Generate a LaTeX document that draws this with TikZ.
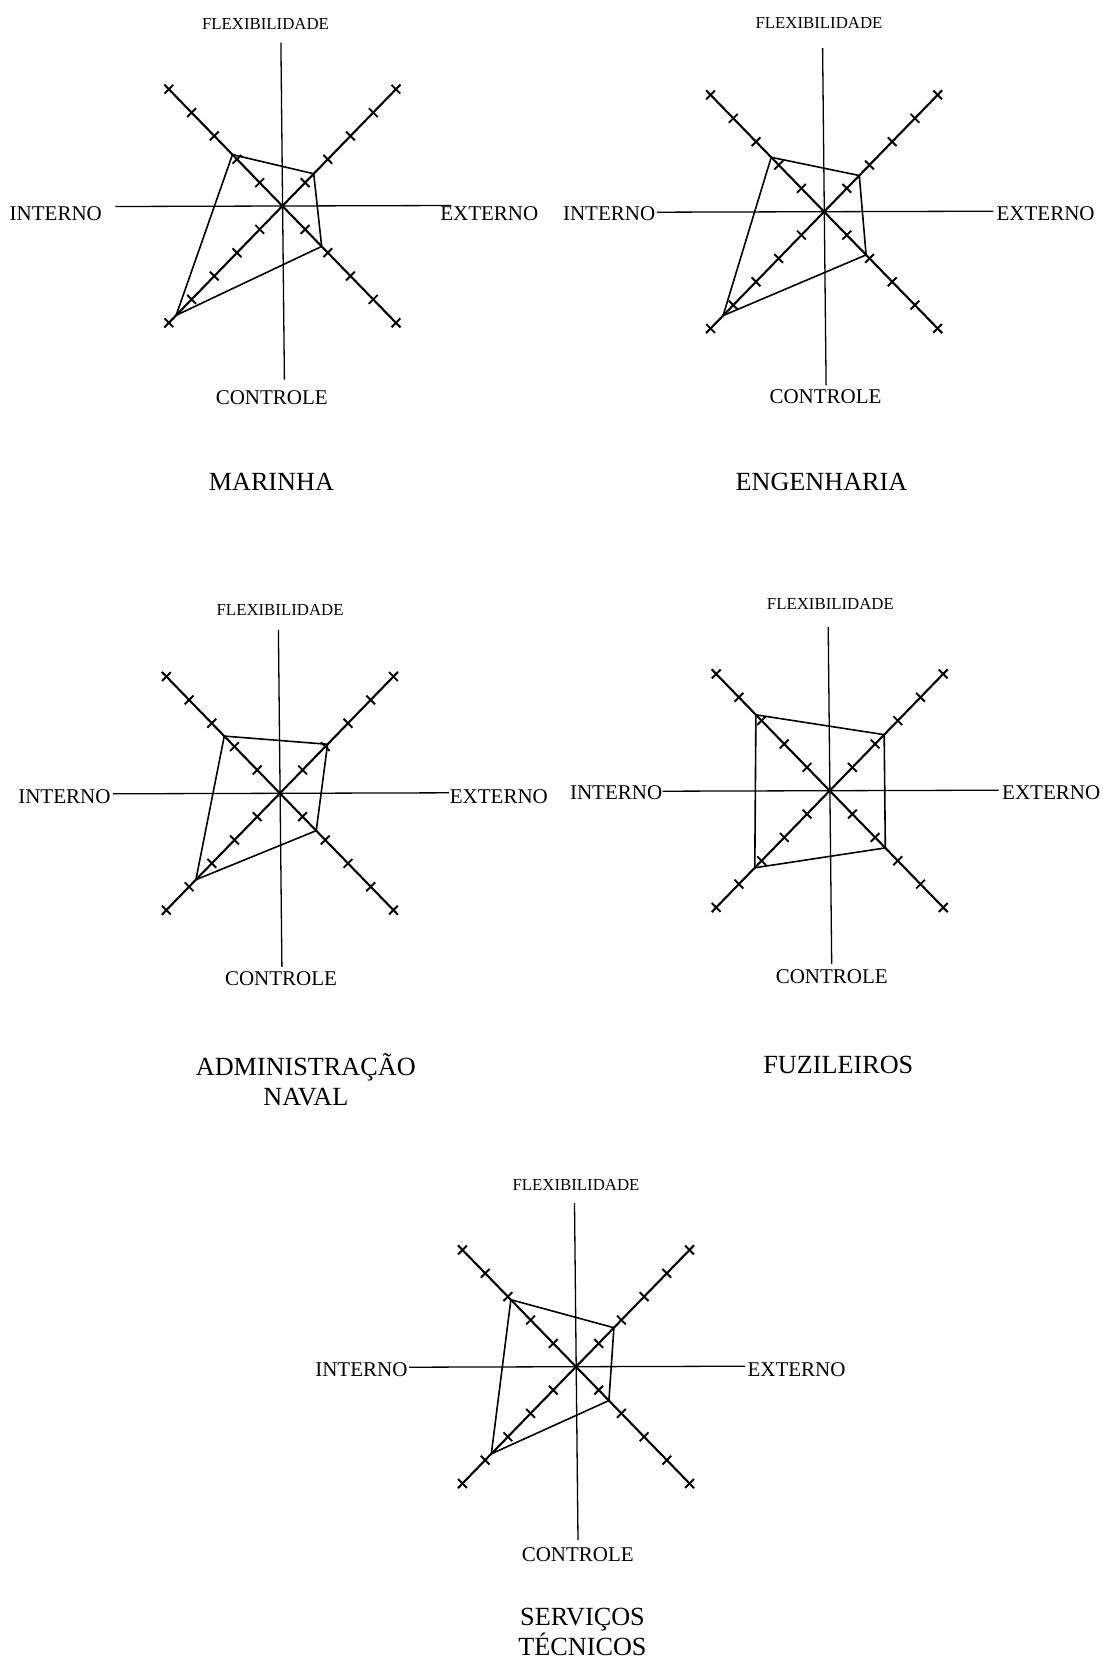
\documentclass[tikz,border=0pt]{standalone}
\usepackage{fontspec}
\setmainfont{Liberation Serif}

% spoke units (one tick step) and half-length of a tick
\def\rdUx{22.7}
\def\rdUy{23.35}
\def\rdTick{4.4}

\tikzset{
  axisline/.style={line width=1.3pt, black},
  diag/.style={line width=2.1pt, black},
  tickmark/.style={line width=1.9pt, black},
  poly/.style={line width=1.6pt, black, line join=miter},
  axislabel/.style={font=\fontsize{21}{25}\selectfont, inner sep=0pt, anchor=base},
  flexlabel/.style={font=\fontsize{16.8}{20}\selectfont, inner sep=0pt, anchor=base},
  chartname/.style={font=\fontsize{26.2}{31}\selectfont, inner sep=0pt, anchor=base},
}

% #1 name, #2/#3 centre, #4..#7 values on the NE, NW, SW, SE spokes
\newcommand\radar[7]{%
  \begin{scope}[shift={(#2,#3)}]
    \coordinate (#1-o) at (0,0);
    \coordinate (#1-top) at (-1.5,-163.5);
    \coordinate (#1-bot) at (2,173.5);
    \coordinate (#1-left) at (-167,0.5);
    \coordinate (#1-right) at (169,-0.5);
    \draw[axisline] (#1-top) -- (#1-bot);
    \draw[axisline] (#1-left) -- (#1-right);
    \foreach \sx/\sy/\d in {1/-1/ne,-1/-1/nw,-1/1/sw,1/1/se}{
      \coordinate (#1-\d-end) at ({\sx*5.2*\rdUx},{\sy*5.2*\rdUy});
      \draw[diag] (#1-o) -- (#1-\d-end);
      \foreach \k in {1,...,5}{
        \coordinate (#1-\d-\k) at ({\sx*\k*\rdUx},{\sy*\k*\rdUy});
        \draw[tickmark] (#1-\d-\k) ++({(0-\sy)*\rdTick},{\sx*\rdTick})
                        -- ++({2*\sy*\rdTick},{(0-2*\sx)*\rdTick});
      }
    }
    \coordinate (#1-pne) at ({#4*\rdUx},{(0-#4)*\rdUy});
    \coordinate (#1-pnw) at ({(0-#5)*\rdUx},{(0-#5)*\rdUy});
    \coordinate (#1-psw) at ({(0-#6)*\rdUx},{#6*\rdUy});
    \coordinate (#1-pse) at ({#7*\rdUx},{#7*\rdUy});
    \draw[poly] (#1-pne) -- (#1-pnw) -- (#1-psw) -- (#1-pse) -- cycle;
  \end{scope}
}

\begin{document}
\begin{tikzpicture}[x=1pt,y=-1pt]
  \useasboundingbox (0,0) rectangle (1103,1660);
  \fill[white] (0,0) rectangle (1103,1660);

  % MARINHA
  \radar{ma}{282.4}{206}{1.38}{2.2}{4.68}{1.73}
  \node[flexlabel] (ma-flex) at (265.5,29.2) {FLEXIBILIDADE};
  \node[axislabel] (ma-int) at (55.8,220.5) {INTERNO};
  \node[axislabel] (ma-ext) at (489.3,220.5) {EXTERNO};
  \node[axislabel] (ma-con) at (271.8,404) {CONTROLE};
  \node[chartname] (ma-name) at (271.4,490.8) {MARINHA};

  % ENGENHARIA
  \radar{en}{824.1}{211.7}{1.55}{2.33}{4.45}{1.85}
  \node[flexlabel] (en-flex) at (819,28.4) {FLEXIBILIDADE};
  \node[axislabel] (en-int) at (609.1,220.7) {INTERNO};
  \node[axislabel] (en-ext) at (1045.6,220.7) {EXTERNO};
  \node[axislabel] (en-con) at (825.5,403.7) {CONTROLE};
  \node[chartname] (en-name) at (821.5,490.8) {ENGENHARIA};

  % ADMINISTRACAO NAVAL
  \radar{ad}{279.9}{793.3}{2.1}{2.45}{3.7}{1.6}
  \node[flexlabel] (ad-flex) at (280.1,615) {FLEXIBILIDADE};
  \node[axislabel] (ad-int) at (64.4,803.7) {INTERNO};
  \node[axislabel] (ad-ext) at (498.9,803.7) {EXTERNO};
  \node[axislabel] (ad-con) at (281,985.3) {CONTROLE};
  \node[chartname] (ad-name1) at (305.8,1075.3) {ADMINISTRAÇÃO};
  \node[chartname] (ad-name2) at (305.8,1105.7) {NAVAL};

  % FUZILEIROS
  \radar{fu}{829.7}{790.7}{2.4}{3.25}{3.3}{2.45}
  \node[flexlabel] (fu-flex) at (830.4,609) {FLEXIBILIDADE};
  \node[axislabel] (fu-int) at (616.1,799.7) {INTERNO};
  \node[axislabel] (fu-ext) at (1051.2,799.7) {EXTERNO};
  \node[axislabel] (fu-con) at (831.8,983.7) {CONTROLE};
  \node[chartname] (fu-name) at (838.3,1073.2) {FUZILEIROS};

  % SERVICOS TECNICOS
  \radar{st}{576}{1366.7}{1.67}{2.87}{3.73}{1.45}
  \node[flexlabel] (st-flex) at (576,1190) {FLEXIBILIDADE};
  \node[axislabel] (st-int) at (361.4,1376.3) {INTERNO};
  \node[axislabel] (st-ext) at (796.5,1376.3) {EXTERNO};
  \node[axislabel] (st-con) at (577.8,1561) {CONTROLE};
  \node[chartname] (st-name1) at (582.5,1625) {SERVIÇOS};
  \node[chartname] (st-name2) at (582.5,1655) {TÉCNICOS};
\end{tikzpicture}
\end{document}
